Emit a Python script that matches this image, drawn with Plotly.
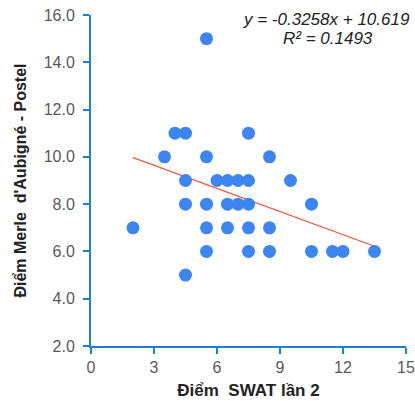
import plotly.graph_objects as go

x_vals = [4.0, 4.5, 7.5,
          3.5, 5.5, 8.5,
          4.5, 6.0, 6.5, 7.0, 7.5, 9.5,
          4.5, 5.5, 6.5, 7.0, 7.5, 10.5,
          2.0, 5.5, 6.5, 7.5, 8.5,
          5.5, 7.5, 8.5, 10.5, 11.5, 12.0, 13.5,
          5.5, 4.5]
y_vals = [11, 11, 11,
          10, 10, 10,
          9, 9, 9, 9, 9, 9,
          8, 8, 8, 8, 8, 8,
          7, 7, 7, 7, 7,
          6, 6, 6, 6, 6, 6, 6,
          15, 5]

slope = -0.3258
intercept = 10.619
r2 = 0.1493

x_min, x_max = min(x_vals), max(x_vals)
trend_x = [x_min, x_max]
trend_y = [slope * v + intercept for v in trend_x]

axis_color = "#1f7fd0"
tick_color = "#595959"
font_family = "Arial, Liberation Sans, sans-serif"

fig = go.Figure()
fig.add_trace(go.Scatter(x=trend_x, y=trend_y, mode="lines",
                         line=dict(color="#f0553a", width=1.2), showlegend=False))
fig.add_trace(go.Scatter(x=x_vals, y=y_vals, mode="markers",
                         marker=dict(color="#3d85f0", size=13, line=dict(width=0)),
                         showlegend=False, cliponaxis=False))

fig.add_annotation(xref="x", yref="y", x=11.2, y=15.8, xanchor="center", yanchor="middle",
                   text=f"<i>y = {slope}x + {intercept}</i>",
                   showarrow=False, align="center",
                   font=dict(family=font_family, size=17, color="#222222"))
fig.add_annotation(xref="x", yref="y", x=11.3, y=15.0, xanchor="center", yanchor="middle",
                   text=f"<i>R² = {r2}</i>",
                   showarrow=False, align="center",
                   font=dict(family=font_family, size=17, color="#222222"))

fig.update_layout(
    width=415, height=401,
    margin=dict(l=91, r=9, t=15, b=55),
    plot_bgcolor="white", paper_bgcolor="white",
    font=dict(family=font_family, size=16, color=tick_color),
)
fig.update_xaxes(range=[0, 15], dtick=3, tick0=0, showgrid=False, zeroline=False,
                 showline=True, linecolor=axis_color, linewidth=2, automargin=False,
                 ticks="outside", tickcolor=axis_color, ticklen=6, tickwidth=2,
                 ticklabeloverflow="allow",
                 tickfont=dict(size=16, color=tick_color),
                 title=dict(text="<b>Điểm  SWAT lần 2</b>", font=dict(size=17, color="#222222"), standoff=9))
fig.update_yaxes(range=[2, 16], dtick=2, tick0=2, tickformat=".1f", showgrid=False, zeroline=False,
                 showline=True, linecolor=axis_color, linewidth=2, automargin=False,
                 ticks="outside", tickcolor=axis_color, ticklen=6, tickwidth=2,
                 ticklabelstandoff=5, ticklabeloverflow="allow",
                 tickfont=dict(size=16, color=tick_color),
                 title=dict(text="<b>Điểm Merle  d'Aubigné - Postel</b>", font=dict(size=16, color="#222222"), standoff=13))

fig.write_html("out.html", config={"displayModeBar": False},
               post_script="document.body.style.margin='0px';document.body.style.overflow='hidden';")
